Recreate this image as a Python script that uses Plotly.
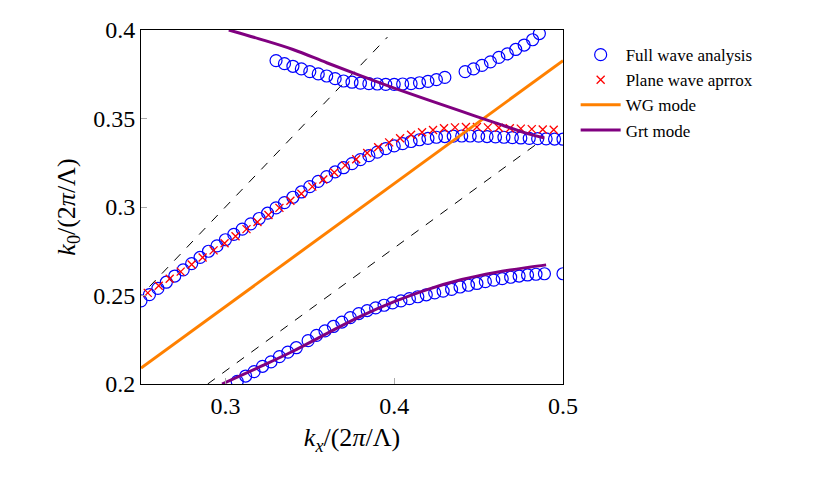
import plotly.graph_objects as go

fw_mid_x = [0.25,0.255,0.26,0.265,0.27,0.275,0.28,0.285,0.29,0.295,0.30,0.305,0.31,0.315,0.32,0.325,0.33,0.335,0.34,0.345,0.35,0.355,0.36,0.365,0.37,0.375,0.38,0.385,0.39,0.395,0.40,0.405,0.41,0.415,0.42,0.425,0.43,0.435,0.44,0.445,0.45,0.455,0.46,0.465,0.47,0.475,0.48,0.485,0.49,0.495,0.50]
fw_mid_y = [0.247,0.2505,0.254,0.2575,0.261,0.2645,0.268,0.2715,0.275,0.278,0.2815,0.2845,0.2875,0.2905,0.2935,0.2965,0.2995,0.3025,0.3055,0.3085,0.3115,0.3145,0.3172,0.3198,0.3222,0.3245,0.3268,0.329,0.331,0.333,0.3345,0.3358,0.337,0.338,0.3388,0.3394,0.3398,0.34,0.3401,0.3401,0.34,0.3398,0.3396,0.3394,0.3392,0.339,0.3388,0.3386,0.3385,0.3384,0.3383]
fw_up_x = [0.330,0.335,0.340,0.345,0.350,0.355,0.360,0.365,0.370,0.375,0.380,0.385,0.390,0.395,0.400,0.405,0.410,0.415,0.420,0.425,0.430,0.442,0.447,0.452,0.457,0.462,0.467,0.472,0.477,0.482,0.486]
fw_up_y = [0.3827,0.381,0.3795,0.378,0.3765,0.3752,0.374,0.3725,0.3712,0.3705,0.37,0.3697,0.3695,0.3693,0.3693,0.3695,0.3697,0.3702,0.371,0.372,0.3732,0.3765,0.378,0.38,0.382,0.3845,0.3865,0.389,0.3915,0.3945,0.398]
fw_lo_x = [0.307,0.312,0.317,0.322,0.327,0.332,0.337,0.342,0.349,0.354,0.359,0.364,0.369,0.374,0.379,0.384,0.389,0.394,0.399,0.404,0.409,0.414,0.419,0.424,0.429,0.434,0.439,0.444,0.449,0.454,0.459,0.464,0.469,0.474,0.479,0.484,0.489,0.500]
fw_lo_y = [0.2015,0.2045,0.207,0.21,0.2125,0.2155,0.218,0.2205,0.2245,0.2275,0.23,0.2325,0.235,0.2375,0.2398,0.2415,0.243,0.2445,0.2458,0.247,0.2482,0.2493,0.2504,0.2515,0.2525,0.2535,0.2548,0.2558,0.2568,0.2578,0.2587,0.2595,0.2603,0.261,0.2616,0.262,0.2623,0.2623]
pw_x = [0.254,0.2605,0.267,0.2735,0.28,0.2865,0.293,0.2995,0.306,0.3125,0.319,0.3255,0.332,0.3385,0.345,0.3515,0.358,0.3645,0.371,0.3775,0.384,0.3905,0.397,0.4035,0.41,0.4165,0.423,0.4295,0.436,0.4425,0.449,0.4555,0.462,0.4685,0.475,0.4815,0.488,0.4945]
pw_y = [0.2515,0.2555,0.2595,0.2635,0.2675,0.2715,0.2755,0.2795,0.2835,0.2875,0.2915,0.2955,0.2995,0.3035,0.3075,0.3115,0.3155,0.3195,0.3235,0.327,0.3305,0.3338,0.3365,0.3388,0.3408,0.3422,0.3435,0.3445,0.345,0.3452,0.3452,0.345,0.3448,0.3445,0.3443,0.344,0.3438,0.3436]
wg_x = [0.25, 0.50]
wg_y = [0.209, 0.3827]
grt_up_x = [0.302,0.32,0.34,0.36,0.38,0.40,0.42,0.44,0.46,0.48,0.489]
grt_up_y = [0.4,0.395,0.389,0.3815,0.3742,0.3672,0.3605,0.354,0.3475,0.3412,0.339]
grt_lo_x = [0.298,0.32,0.34,0.36,0.38,0.40,0.42,0.44,0.46,0.48,0.49]
grt_lo_y = [0.2,0.2095,0.2185,0.2285,0.2382,0.2465,0.2535,0.259,0.263,0.266,0.2673]
dash1_x = [0.255, 0.396]
dash1_y = [0.255, 0.396]
dash2_x = [0.2895, 0.485]
dash2_y = [0.2, 0.336]

orange = "#ff8000"
purple = "#800080"
fig = go.Figure()
for x, y in [(dash1_x, dash1_y), (dash2_x, dash2_y)]:
    fig.add_trace(go.Scatter(x=x, y=y, mode="lines", showlegend=False,
                             line=dict(color="black", width=1, dash="dash")))
for i, (x, y) in enumerate([(fw_mid_x, fw_mid_y), (fw_up_x, fw_up_y), (fw_lo_x, fw_lo_y)]):
    fig.add_trace(go.Scatter(x=x, y=y, mode="markers", name="Full wave analysis",
                             showlegend=(i == 0), legendrank=1,
                             marker=dict(symbol="circle-open", size=12, color="blue", line=dict(width=1.2))))
fig.add_trace(go.Scatter(x=pw_x, y=pw_y, mode="markers", name="Plane wave aprrox", legendrank=2,
                         marker=dict(symbol="x-thin-open", size=8, color="red", line=dict(width=1.3, color="red"))))
fig.add_trace(go.Scatter(x=wg_x, y=wg_y, mode="lines", name="WG mode", legendrank=3,
                         line=dict(color=orange, width=3)))
for i, (x, y) in enumerate([(grt_up_x, grt_up_y), (grt_lo_x, grt_lo_y)]):
    fig.add_trace(go.Scatter(x=x, y=y, mode="lines", name="Grt mode", showlegend=(i == 0), legendrank=4,
                             line=dict(color=purple, width=3, shape="spline")))

ax = dict(showgrid=False, zeroline=False, showline=True, linecolor="black", linewidth=1, mirror=True,
          ticks="inside", tickcolor="#aaaaaa", ticklen=6, tickfont=dict(size=24), automargin=False)
fig.update_xaxes(ax, range=[0.25, 0.5], tickvals=[0.3, 0.4, 0.5],
                 title=dict(text="<i>k<sub>x</sub></i>/(2<i>π</i>/Λ)", font=dict(size=26), standoff=10))
fig.update_yaxes(ax, range=[0.2, 0.4], tickvals=[0.2, 0.25, 0.3, 0.35, 0.4],
                 title=dict(text="<i>k</i><sub>0</sub>/(2<i>π</i>/Λ)", font=dict(size=26), standoff=10))
fig.update_layout(width=829, height=478, margin=dict(l=133, r=274, t=22, b=102, autoexpand=False),
                  paper_bgcolor="white", plot_bgcolor="white",
                  font=dict(family="Liberation Serif", color="black"),
                  legend=dict(x=1.03, y=0.98, xanchor="left", yanchor="top", font=dict(size=17),
                              tracegroupgap=6, itemwidth=40))
fig.write_html("out.html")
